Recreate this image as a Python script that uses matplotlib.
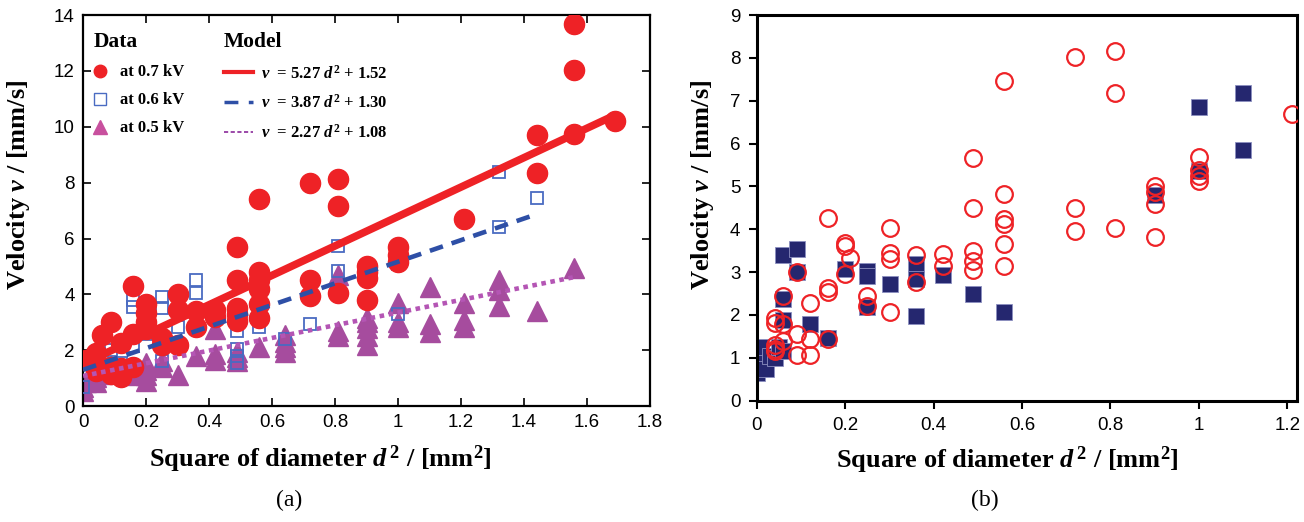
import matplotlib
matplotlib.use("Agg")
import matplotlib.pyplot as plt
from matplotlib.lines import Line2D
import numpy as np

plt.rcParams["mathtext.fontset"] = "custom"
plt.rcParams["mathtext.rm"] = "Liberation Serif:bold"
plt.rcParams["mathtext.it"] = "Liberation Serif:italic:bold"
plt.rcParams["mathtext.bf"] = "Liberation Serif:bold"

SERIF = "Liberation Serif"
SANS = "Liberation Sans"

# ---------------- (a) velocity vs d^2 at three voltages ----------------
d2_07 = [0.01, 0.04, 0.04, 0.06, 0.06, 0.09, 0.09, 0.09, 0.12, 0.12,
         0.12, 0.16, 0.16, 0.16, 0.20, 0.20, 0.20, 0.20, 0.25, 0.25,
         0.30, 0.30, 0.30, 0.36, 0.36, 0.42, 0.42, 0.49, 0.49, 0.49,
         0.49, 0.49, 0.56, 0.56, 0.56, 0.56, 0.56, 0.56, 0.72, 0.72,
         0.72, 0.81, 0.81, 0.81, 0.90, 0.90, 0.90, 0.90, 1.00, 1.00,
         1.00, 1.21, 1.44, 1.44, 1.56, 1.56, 1.56, 1.69]
v_07 = [1.65, 1.90, 1.25, 2.55, 1.40, 3.00, 1.40, 1.15, 2.25, 1.35,
        1.05, 4.30, 2.60, 1.40, 3.65, 3.35, 3.00, 2.75, 2.45, 2.20,
        4.00, 3.45, 2.20, 3.40, 2.85, 3.45, 3.20, 5.70, 4.50, 3.50,
        3.30, 3.05, 7.40, 4.80, 4.50, 4.20, 3.65, 3.15, 8.00, 4.50,
        3.95, 8.15, 7.15, 4.05, 5.00, 4.80, 4.60, 3.80, 5.70, 5.40,
        5.15, 6.70, 9.70, 8.35, 13.70, 12.05, 9.75, 10.20]

d2_06 = [0.00, 0.06, 0.09, 0.12, 0.16, 0.16, 0.16, 0.20, 0.25, 0.25,
         0.25, 0.25, 0.30, 0.36, 0.36, 0.49, 0.49, 0.49, 0.49, 0.56,
         0.64, 0.72, 0.81, 0.81, 1.00, 1.00, 1.32, 1.32, 1.44]
v_06 = [0.70, 1.80, 2.00, 1.55, 3.80, 3.55, 2.15, 2.60, 3.90, 3.50,
        2.35, 1.60, 2.85, 4.50, 4.05, 2.70, 2.05, 1.80, 1.55, 2.85,
        2.40, 2.95, 5.75, 4.85, 5.10, 3.30, 8.40, 6.40, 7.45]

d2_05 = [0.00, 0.00, 0.01, 0.04, 0.04, 0.06, 0.09, 0.09, 0.12, 0.16,
         0.16, 0.20, 0.20, 0.20, 0.20, 0.25, 0.25, 0.30, 0.36, 0.42,
         0.42, 0.42, 0.49, 0.49, 0.49, 0.56, 0.64, 0.64, 0.64, 0.64,
         0.81, 0.81, 0.81, 0.90, 0.90, 0.90, 0.90, 0.90, 1.00, 1.00,
         1.00, 1.10, 1.10, 1.10, 1.21, 1.21, 1.21, 1.32, 1.32, 1.32,
         1.44, 1.56]
v_05 = [0.55, 0.70, 0.85, 0.85, 1.05, 1.15, 1.25, 1.45, 1.30, 1.10,
        1.30, 0.90, 1.10, 1.30, 1.55, 1.40, 1.60, 1.10, 1.80, 1.65,
        1.85, 2.75, 1.60, 1.75, 1.95, 2.10, 1.95, 2.10, 2.30, 2.55,
        2.50, 2.70, 4.70, 2.20, 2.50, 2.80, 3.00, 3.15, 2.85, 3.00,
        3.70, 2.65, 2.95, 4.25, 2.85, 3.10, 3.70, 3.60, 4.15, 4.50,
        3.40, 4.95]

# linear models v = a d^2 + b and the d^2 range each one spans
model_07 = (5.27, 1.52, 1.69)
model_06 = (3.87, 1.30, 1.44)
model_05 = (2.27, 1.08, 1.56)

# ---------------- (b) two data sets ----------------
d2_circ = [0.04, 0.04, 0.04, 0.04, 0.04, 0.06, 0.06, 0.06, 0.09, 0.09,
           0.09, 0.12, 0.12, 0.12, 0.16, 0.16, 0.16, 0.16, 0.20, 0.20,
           0.21, 0.20, 0.25, 0.25, 0.30, 0.30, 0.30, 0.30, 0.36, 0.36,
           0.42, 0.42, 0.49, 0.49, 0.49, 0.49, 0.49, 0.56, 0.56, 0.56,
           0.56, 0.56, 0.56, 0.72, 0.72, 0.72, 0.81, 0.81, 0.81, 0.90,
           0.90, 0.90, 0.90, 1.00, 1.00, 1.00, 1.00, 1.21]
v_circ = [1.93, 1.82, 1.30, 1.20, 1.15, 2.45, 1.80, 1.40, 3.00, 1.55,
          1.07, 2.28, 1.45, 1.07, 4.27, 2.63, 2.53, 1.45, 3.68, 3.60,
          3.33, 2.95, 2.44, 2.20, 4.03, 3.44, 3.31, 2.08, 3.39, 2.77,
          3.43, 3.14, 5.67, 4.50, 3.50, 3.27, 3.06, 7.47, 4.82, 4.25,
          4.12, 3.66, 3.14, 8.03, 4.50, 3.96, 8.16, 7.18, 4.03, 5.00,
          4.86, 4.60, 3.83, 5.68, 5.38, 5.25, 5.13, 6.70]

d2_sq = [0.00, 0.00, 0.01, 0.01, 0.02, 0.03, 0.04, 0.05, 0.06, 0.06,
         0.06, 0.06, 0.09, 0.09, 0.12, 0.16, 0.20, 0.25, 0.25, 0.25,
         0.30, 0.36, 0.36, 0.36, 0.42, 0.49, 0.56, 0.90, 1.00, 1.00,
         1.10, 1.10]
v_sq = [0.65, 0.85, 1.05, 1.25, 0.75, 1.05, 1.00, 1.25, 1.15, 3.40,
        2.38, 1.88, 3.55, 3.00, 1.78, 1.47, 3.08, 3.02, 2.90, 2.18,
        2.73, 3.20, 2.85, 1.97, 2.94, 2.48, 2.08, 4.80, 5.35, 6.85,
        7.18, 5.85]

RED = "#ee2226"
BLUE_SQ = "#4a6bc2"
BLUE_LN = "#2e4fa6"
PURPLE = "#a64c9e"
PURPLE_LN = "#b455b4"
NAVY = "#25276f"

fig = plt.figure(figsize=(13.04, 5.22), dpi=100)
axa = fig.add_axes([0.0637, 0.222, 0.4348, 0.749])
axb = fig.add_axes([0.5805, 0.2325, 0.4141, 0.7385])

# ---- panel (a)
axa.plot(d2_05, v_05, linestyle="none", marker="^", ms=15,
         mfc=PURPLE, mec=PURPLE, zorder=2)
axa.plot(d2_06, v_06, linestyle="none", marker="s", ms=9,
         mfc="none", mec=BLUE_SQ, mew=1.3, zorder=3)
axa.plot(d2_07, v_07, linestyle="none", marker="o", ms=14.5,
         mfc=RED, mec=RED, zorder=4)

for (a, b, dmax), col, ls, lw in [(model_07, RED, "-", 5.5),
                                  (model_06, BLUE_LN, (0, (3, 2)), 3.3),
                                  (model_05, PURPLE_LN, (0, (1, 1)), 3.3)]:
    xx = np.linspace(0, dmax, 50)
    axa.plot(xx, a * xx + b, color=col, linestyle=ls, lw=lw, zorder=5,
             solid_capstyle="butt", dash_capstyle="butt")

axa.set_xlim(0, 1.8)
axa.set_ylim(0, 14)
axa.set_xticks(np.arange(0, 1.81, 0.2))
axa.set_xticklabels(["0", "0.2", "0.4", "0.6", "0.8", "1", "1.2", "1.4", "1.6", "1.8"])
axa.set_yticks(np.arange(0, 15, 2))
axa.tick_params(direction="in", top=True, right=True, length=6, width=1.2,
                labelsize=13.5, pad=6)
for lab in axa.get_xticklabels() + axa.get_yticklabels():
    lab.set_fontfamily(SANS)
for s in axa.spines.values():
    s.set_linewidth(1.6)

axa.set_xlabel(r"Square of diameter $d^{\,2}$ / [mm$^2$]", fontfamily=SERIF,
               fontweight="bold", fontsize=19)
axa.set_ylabel(r"Velocity $v$ / [mm/s]", fontfamily=SERIF,
               fontweight="bold", fontsize=19)
axa.xaxis.set_label_coords(0.418, -0.095)
axa.yaxis.set_label_coords(-0.09, 0.565)

data_handles = [
    Line2D([], [], linestyle="none", marker="o", ms=9, mfc=RED, mec=RED),
    Line2D([], [], linestyle="none", marker="s", ms=9, mfc="none", mec=BLUE_SQ, mew=1.0),
    Line2D([], [], linestyle="none", marker="^", ms=10, mfc="#c8509e", mec="#c8509e"),
]
data_labels = ["at 0.7 kV", "at 0.6 kV", "at 0.5 kV"]
model_handles = [
    Line2D([], [], color=RED, lw=3),
    Line2D([], [], color=BLUE_LN, lw=2.5, linestyle=(0, (4, 3))),
    Line2D([], [], color="#8a2a9a", lw=1.2, linestyle=(0, (2.5, 1.5))),
]
model_labels = [r"$v$  = 5.27 $d^2$ + 1.52",
                r"$v$  = 3.87 $d^2$ + 1.30",
                r"$v$  = 2.27 $d^2$ + 1.08"]
leg_font = {"family": SERIF, "weight": "bold", "size": 12}
title_font = {"family": SERIF, "weight": "bold", "size": 15.5}
leg1 = axa.legend(data_handles, data_labels, loc="upper left",
                  bbox_to_anchor=(-0.005, 0.99), frameon=False, prop=leg_font,
                  title="Data", title_fontproperties=title_font,
                  handlelength=0.8, handletextpad=0.8, labelspacing=0.72,
                  alignment="left", borderaxespad=0.4)
axa.add_artist(leg1)
axa.legend(model_handles, model_labels, loc="upper left",
           bbox_to_anchor=(0.225, 0.99), frameon=False, prop=leg_font,
           title="Model", title_fontproperties=title_font,
           handlelength=1.75, handletextpad=0.5, labelspacing=0.72,
           alignment="left", borderaxespad=0.4)

# ---- panel (b)
axb.plot(d2_sq, v_sq, linestyle="none", marker="s", ms=12,
         mfc=NAVY, mec="#8c8fc0", mew=0.6, zorder=2)
axb.plot(d2_circ, v_circ, linestyle="none", marker="o", ms=12,
         mfc="none", mec=RED, mew=1.6, zorder=3)

axb.set_xlim(0, 1.222)
axb.set_ylim(0, 9)
axb.set_xticks(np.arange(0, 1.21, 0.2))
axb.set_xticklabels(["0", "0.2", "0.4", "0.6", "0.8", "1", "1.2"])
axb.set_yticks(np.arange(0, 10, 1))
axb.tick_params(direction="out", length=6, width=1.5, labelsize=13.5, pad=6)
for lab in axb.get_xticklabels() + axb.get_yticklabels():
    lab.set_fontfamily(SANS)
for s in axb.spines.values():
    s.set_linewidth(2.2)

axb.set_xlabel(r"Square of diameter $d^{\,2}$ / [mm$^2$]", fontfamily=SERIF,
               fontweight="bold", fontsize=19)
axb.set_ylabel(r"Velocity $v$ / [mm/s]", fontfamily=SERIF,
               fontweight="bold", fontsize=19)
axb.xaxis.set_label_coords(0.463, -0.115)
axb.yaxis.set_label_coords(-0.076, 0.56)

fig.text(0.222, 0.03, "(a)", fontfamily=SERIF, fontsize=17, ha="center")
fig.text(0.755, 0.03, "(b)", fontfamily=SERIF, fontsize=17, ha="center")

fig.savefig("out.png", dpi=100)
